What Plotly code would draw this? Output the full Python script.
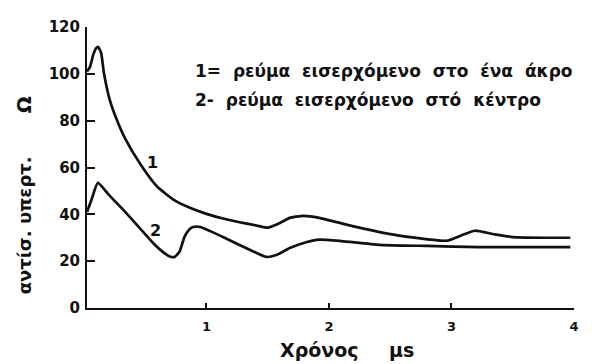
import plotly.graph_objects as go

# Curve 1: current entering at one end
x1 = [0.025, 0.05, 0.075, 0.1, 0.115, 0.14, 0.163, 0.21, 0.26, 0.34, 0.46, 0.595,
      0.73, 0.865, 1.0, 1.135, 1.27, 1.41, 1.5, 1.6, 1.68, 1.79, 1.92, 2.15, 2.56,
      2.91, 2.97, 3.08, 3.19, 3.35, 3.5, 3.75, 3.97]
y1 = [101, 103, 108, 111, 111.5, 109, 100.4, 89, 81.5, 72, 61.5, 52,
      46.3, 42.8, 40.2, 38.2, 36.6, 35.2, 34.3, 36.3, 38.5, 39.3, 38.5, 35.5, 31,
      28.8, 28.8, 31, 33, 31.5, 30.3, 30, 30]

# Curve 2: current entering at the centre
x2 = [0.025, 0.06, 0.114, 0.2, 0.32, 0.457, 0.56, 0.66, 0.70, 0.74, 0.78, 0.82,
      0.86, 0.89, 0.95, 1.135, 1.27, 1.41, 1.49, 1.57, 1.68, 1.82, 1.92, 2.1,
      2.41, 2.8, 3.23, 3.6, 3.97]
y2 = [41, 46, 53.4, 48.5, 42, 34, 28, 23.3, 22, 21.8, 24, 30.3,
      33.5, 34.6, 34.6, 30.3, 26.9, 23.5, 21.8, 22.6, 25.6, 28.2, 29.2, 28.6,
      27, 26.5, 26, 26, 26]

x_ticks = [1, 2, 3, 4]
y_ticks = [0, 20, 40, 60, 80, 100, 120]

legend_lines = [
    "1=  ρεύμα  εισερχόμενο  στο  ένα  άκρο",
    "2-  ρεύμα  εισερχόμενο  στό  κέντρο",
]

FONT = "DejaVu Sans"
INK = "#111111"


def bold(size):
    return dict(family=FONT, size=size, color=INK, weight="bold")


fig = go.Figure()
for xs, ys in ((x1, y1), (x2, y2)):
    fig.add_trace(go.Scatter(
        x=xs, y=ys, mode="lines",
        line=dict(color=INK, width=2.7, shape="spline", smoothing=0.5),
        showlegend=False, hoverinfo="skip",
    ))

# curve numbers
fig.add_annotation(x=0.56, y=62, text="1", showarrow=False, font=bold(16))
fig.add_annotation(x=0.58, y=33, text="2", showarrow=False, font=bold(16))

# key text
for i, line in enumerate(legend_lines):
    fig.add_annotation(x=0.89, y=101 - 12 * i,
                       text=line.replace("  ", "\u00a0\u00a0"),
                       showarrow=False, xanchor="left", yanchor="middle",
                       font=bold(17))

# axis titles
fig.add_annotation(xref="paper", yref="paper", x=-0.129, y=0.295,
                   xanchor="center", yanchor="middle",
                   text="αντίσ.\u00a0υπερτ.", textangle=-90, showarrow=False,
                   font=bold(18))
fig.add_annotation(xref="paper", yref="paper", x=-0.129, y=0.722,
                   xanchor="center", yanchor="middle",
                   text="Ω", textangle=-90, showarrow=False, font=bold(20))
fig.add_annotation(xref="paper", yref="paper", x=0.478, y=-0.15,
                   xanchor="center", yanchor="middle",
                   text="Χρόνος", showarrow=False, font=bold(19))
fig.add_annotation(xref="paper", yref="paper", x=0.645, y=-0.15,
                   xanchor="center", yanchor="middle",
                   text="μs", showarrow=False, font=bold(19))

fig.update_xaxes(range=[0.025, 4], tickvals=x_ticks,
                 ticktext=[str(v) for v in x_ticks],
                 showline=True, linecolor=INK, linewidth=2, showgrid=False,
                 zeroline=False, ticks="inside", ticklen=5, tickwidth=1.5,
                 tickcolor=INK, ticklabelstandoff=5, tickfont=bold(13))
fig.update_yaxes(range=[0, 120], tickvals=y_ticks,
                 ticktext=[str(v) for v in y_ticks],
                 showline=True, linecolor=INK, linewidth=2, showgrid=False,
                 zeroline=False, ticks="inside", ticklen=8, tickwidth=1.5,
                 tickcolor=INK, ticklabelstandoff=2, tickfont=bold(15))

fig.update_layout(
    width=592, height=364,
    margin=dict(l=87, r=18, t=27, b=56),
    paper_bgcolor="white", plot_bgcolor="white",
)

fig.write_html("out.html")
